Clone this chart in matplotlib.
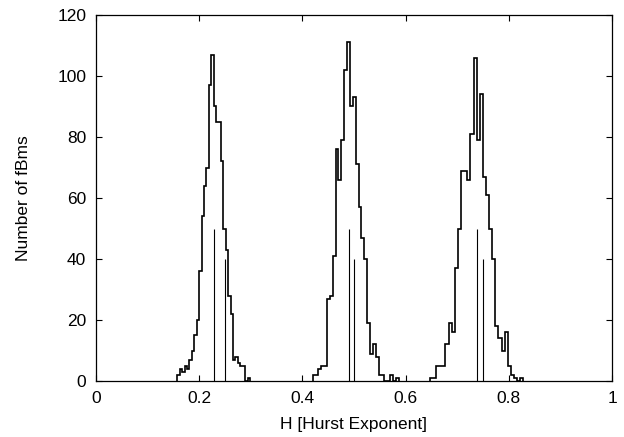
import matplotlib

matplotlib.use("Agg")
import matplotlib.pyplot as plt
import numpy as np

# Histograms of estimated Hurst exponents, 30 bins over each set's range
BIN_COUNT = 30

H025_RANGE = (0.1575, 0.2985)
H025_COUNTS = [2, 4, 3, 5, 4, 7, 10, 15, 20, 36, 54, 64, 70, 97, 107,
               90, 85, 85, 72, 50, 43, 28, 22, 7, 8, 6, 5, 5, 0, 1]

H050_RANGE = (0.4198, 0.5867)
H050_COUNTS = [2, 2, 4, 5, 5, 27, 28, 41, 76, 66, 79, 102, 111, 90, 93,
               71, 57, 47, 40, 19, 9, 12, 8, 2, 2, 0, 0, 2, 0, 1]

H075_RANGE = (0.6471, 0.8282)
H075_COUNTS = [1, 1, 5, 5, 5, 12, 19, 16, 37, 50, 69, 69, 66, 81, 106,
               79, 94, 67, 61, 50, 40, 18, 14, 10, 16, 5, 2, 1, 0, 1]

# marker lines: mean estimate (taller) and true value (shorter)
MEAN_H = [0.2287, 0.4897, 0.7390]
TRUE_H = [0.25, 0.50, 0.75]
MEAN_HEIGHT = 50
TRUE_HEIGHT = 40

X_TICKS = [0, 0.2, 0.4, 0.6, 0.8, 1]
X_TICK_LABELS = ["0", "0.2", "0.4", "0.6", "0.8", "1"]
Y_TICKS = [0, 20, 40, 60, 80, 100, 120]

plt.rcParams["font.family"] = ["Liberation Sans", "DejaVu Sans"]
plt.rcParams["font.size"] = 12.5

fig = plt.figure(figsize=(6.24, 4.37), dpi=100)
ax = fig.add_axes([0.1538, 0.1281, 0.8270, 0.8376])

for (lo, hi), counts in [
    (H025_RANGE, H025_COUNTS),
    (H050_RANGE, H050_COUNTS),
    (H075_RANGE, H075_COUNTS),
]:
    edges = np.linspace(lo, hi, BIN_COUNT + 1)
    ax.stairs(counts, edges, baseline=0, color="black", linewidth=1.2)

ax.vlines(MEAN_H, 0, MEAN_HEIGHT, color="black", linewidth=0.8)
ax.vlines(TRUE_H, 0, TRUE_HEIGHT, color="black", linewidth=0.8)

ax.set_xlim(0, 1)
ax.set_ylim(0, 120)
ax.set_xticks(X_TICKS)
ax.set_xticklabels(X_TICK_LABELS)
ax.set_yticks(Y_TICKS)
ax.tick_params(direction="in", top=True, right=True, length=4, width=0.8, pad=7)
for spine in ax.spines.values():
    spine.set_linewidth(0.9)

ax.set_xlabel("H [Hurst Exponent]", labelpad=8)
ax.set_ylabel("Number of fBms", labelpad=19)

fig.savefig("out.png", dpi=100)
